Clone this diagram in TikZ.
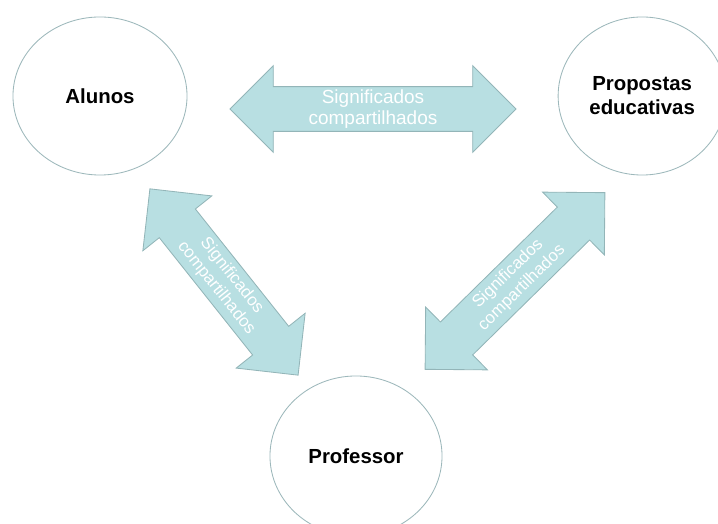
\documentclass[tikz,border=0pt]{standalone}
\usepackage{fontspec}
\setmainfont{Liberation Sans}
\usetikzlibrary{shapes.geometric,shapes.arrows}
\definecolor{ringline}{HTML}{9DB8BB}
\definecolor{sharefill}{HTML}{B8DFE2}
\definecolor{shareline}{HTML}{93B5B8}

\begin{document}
\begin{tikzpicture}[x=0.025cm,y=-0.025cm,
	round/.style={ellipse,draw=ringline,line width=0.6pt,fill=white,align=center,font=\fontsize{14.5}{17}\selectfont\bfseries},
	shared/.style={double arrow,double arrow head extend=0.525cm,double arrow tip angle=90,fill=sharefill,draw=shareline,line width=0.6pt,text=white,align=center,inner xsep=0pt,inner ysep=1.8pt,font=\fontsize{13.5}{15}\selectfont},
	tilted/.style={shared,inner ysep=3.5pt,font=\fontsize{12}{14}\selectfont}]

	\useasboundingbox (0,0) rectangle (718,524);

	\node[round,minimum width=4.35cm,minimum height=3.95cm] (alunos) at (100,96) {Alunos};
	\node[round,minimum width=4.2cm,minimum height=3.95cm] (propostas) [right of=alunos, node distance=13.55cm] {Propostas\\educativas};
	\node[round,minimum width=4.3cm,minimum height=4cm] (professor) at (356,456) {Professor};

	\node[shared,minimum height=7.15cm] (topo) at (373,109) {Significados\\compartilhados};
	\node[tilted,minimum height=5.95cm,rotate=-51.5] (esquerda) at (224,282) {Significados\\compartilhados};
	\node[tilted,minimum height=6.3cm,rotate=44.5] (direita) at (515,281) {Significados\\compartilhados};

\end{tikzpicture}
\end{document}
